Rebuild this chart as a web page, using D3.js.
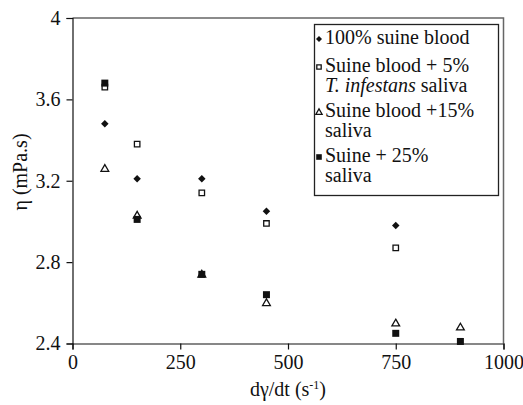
<!DOCTYPE html>
<html>
<head>
<meta charset="utf-8">
<script src="https://cdn.jsdelivr.net/npm/d3@7"></script>
<style>
  body { margin: 0; background: #fff; }
  svg text { font-family: "Liberation Serif", "DejaVu Serif", "Noto Serif", "Nimbus Roman", FreeSerif, Times, serif; fill: #111; }
</style>
</head>
<body>
<div id="chart"></div>
<script>
const width = 523, height = 405;
const serif = "'Liberation Serif', 'DejaVu Serif', 'Noto Serif', 'Nimbus Roman', FreeSerif, Times, serif";

// shear rates (s^-1)
const shearRates = [75, 150, 300, 450, 750, 900];
// viscosity (mPa.s) per series
const blood100 = [3.48, 3.21, 3.21, 3.05, 2.98];
const saliva5 = [3.66, 3.38, 3.14, 2.99, 2.87];
const saliva15 = [3.26, 3.03, 2.74, 2.60, 2.50, 2.48];
const saliva25 = [3.68, 3.01, 2.74, 2.64, 2.45, 2.41];

const xTicks = [0, 250, 500, 750, 1000];
const yTicks = [2.4, 2.8, 3.2, 3.6, 4];

const series = [
  { name: "blood100", values: blood100, shape: "diamond" },
  { name: "saliva5", values: saliva5, shape: "openSquare" },
  { name: "saliva15", values: saliva15, shape: "openTriangle" },
  { name: "saliva25", values: saliva25, shape: "filledSquare" }
];

// legend lines: each entry can have several rows, each row several pieces (italic or not)
const legendEntries = [
  { shape: "diamond", rows: [[{ t: "100% suine blood" }]] },
  { shape: "openSquare", rows: [[{ t: "Suine blood + 5%" }], [{ t: "T. infestans", i: true }, { t: " saliva" }]] },
  { shape: "openTriangle", rows: [[{ t: "Suine blood +15%" }], [{ t: "saliva" }]] },
  { shape: "filledSquare", rows: [[{ t: "Suine + 25%" }], [{ t: "saliva" }]] }
];

const margin = { left: 72.5, right: 19.5, top: 18, bottom: 61.5 };

let svg = d3.select("#chart")
  .append("svg")
  .attr("width", width)
  .attr("height", height)
  .attr("font-family", serif);

let x = d3.scaleLinear().domain([0, 1000]).range([margin.left, width - margin.right]);
let y = d3.scaleLinear().domain([2.4, 4]).range([height - margin.bottom, margin.top]);

// frame: top and right in grey
svg.append("path")
  .attr("d", `M${x(0)},${y(4)}H${x(1000)}V${y(2.4)}`)
  .attr("fill", "none")
  .attr("stroke", "#666")
  .attr("stroke-width", 1.5);

// axes
let xAxis = svg.append("g")
  .attr("transform", `translate(0,${y(2.4)})`)
  .call(d3.axisBottom(x).tickValues(xTicks).tickSize(6).tickPadding(5).tickFormat(d3.format("d")));

let yAxis = svg.append("g")
  .attr("transform", `translate(${x(0)},0)`)
  .call(d3.axisLeft(y).tickValues(yTicks).tickSize(6).tickPadding(6).tickFormat((d) => (d === 4 ? "4" : d.toFixed(1))));

[xAxis, yAxis].forEach((g) => {
  g.attr("font-family", serif);
  g.select(".domain").attr("stroke", "#111").attr("stroke-width", 1.2);
  g.selectAll(".tick line").attr("stroke", "#111").attr("stroke-width", 1.2);
  g.selectAll(".tick text")
    .attr("font-size", 20)
    .attr("fill", "#111");
});

// axis titles
svg.append("text")
  .attr("transform", `translate(27,172) rotate(-90)`)
  .attr("text-anchor", "middle")
  .attr("font-size", 20)
  .text("η (mPa.s)");

let xTitle = svg.append("text")
  .attr("x", 288)
  .attr("y", 396)
  .attr("text-anchor", "middle")
  .attr("font-size", 20);
xTitle.append("tspan").text("dγ/dt (s");
xTitle.append("tspan").attr("font-size", 12).attr("dy", -7).text("-1");
xTitle.append("tspan").attr("dy", 7).text(")");

// markers
function drawMarker(g, shape, scale) {
  const s = scale || 1;
  if (shape === "diamond") {
    g.append("path")
      .attr("d", d3.symbol().type(d3.symbolSquare).size(28 * s * s)())
      .attr("transform", "rotate(45)")
      .attr("fill", "#111");
  } else if (shape === "openSquare") {
    g.append("path")
      .attr("d", d3.symbol().type(d3.symbolSquare).size(30 * s * s)())
      .attr("fill", "#fff")
      .attr("stroke", "#111")
      .attr("stroke-width", 1.3);
  } else if (shape === "openTriangle") {
    g.append("path")
      .attr("d", d3.symbol().type(d3.symbolTriangle).size(26 * s * s)())
      .attr("transform", "translate(0,0.5)")
      .attr("fill", "#fff")
      .attr("stroke", "#111")
      .attr("stroke-width", 1.3);
  } else {
    g.append("path")
      .attr("d", d3.symbol().type(d3.symbolSquare).size(49 * s * s)())
      .attr("fill", "#111");
  }
}

series.forEach((sr) => {
  let pts = svg.append("g").attr("class", sr.name)
    .selectAll("g")
    .data(sr.values.map((v, i) => ({ x: shearRates[i], y: v })))
    .enter().append("g")
    .attr("transform", (d) => `translate(${x(d.x)},${y(d.y)})`);
  pts.each(function() { drawMarker(d3.select(this), sr.shape, 1); });
});

// legend
let legend = svg.append("g").attr("class", "legend");
legend.append("rect")
  .attr("x", 314.5).attr("y", 24.5)
  .attr("width", 184).attr("height", 171)
  .attr("fill", "#fff")
  .attr("stroke", "#222")
  .attr("stroke-width", 1.3);

const rowBaselines = [[44], [72, 92], [117, 137], [162, 182]];
legendEntries.forEach((entry, k) => {
  let m = legend.append("g").attr("transform", `translate(319,${rowBaselines[k][0] - 5})`);
  drawMarker(m, entry.shape, 0.8);
  entry.rows.forEach((row, r) => {
    let t = legend.append("text")
      .attr("x", 325)
      .attr("y", rowBaselines[k][r])
      .attr("font-size", 20);
    row.forEach((piece) => {
      t.append("tspan")
        .attr("font-style", piece.i ? "italic" : "normal")
        .text(piece.t);
    });
  });
});
</script>
</body>
</html>
